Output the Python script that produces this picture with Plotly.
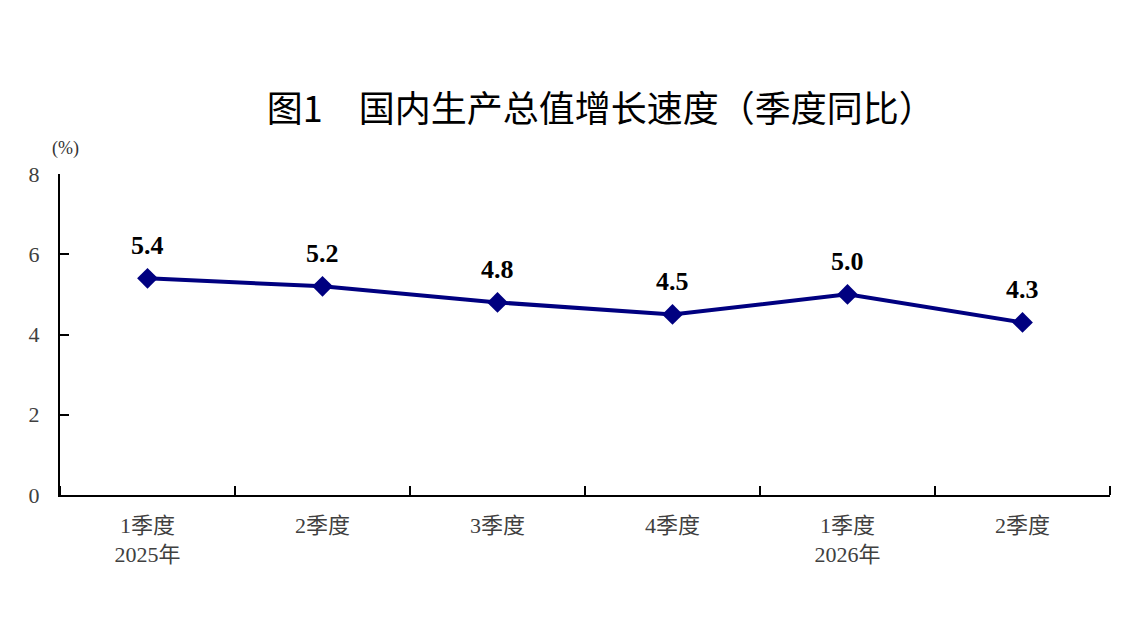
import plotly.graph_objects as go

categories = ["1季度<br>2025年", "2季度", "3季度", "4季度", "1季度<br>2026年", "2季度"]
values = [5.4, 5.2, 4.8, 4.5, 5.0, 4.3]
labels = ["5.4", "5.2", "4.8", "4.5", "5.0", "4.3"]
y_ticks = [0, 2, 4, 6, 8]

x = list(range(len(values)))

fig = go.Figure()
fig.add_trace(go.Scatter(
    x=x, y=values, mode="lines+markers",
    line=dict(color="#000080", width=4),
    marker=dict(symbol="diamond", size=16, color="#000080"),
    cliponaxis=False, hoverinfo="skip",
))

annotations = [
    dict(x=xi, y=v, text=t, xref="x", yref="y", showarrow=False,
         xanchor="center", yanchor="bottom", yshift=16,
         font=dict(family="Liberation Serif", size=26, color="#000000", weight="bold"))
    for xi, v, t in zip(x, values, labels)
]
annotations.append(dict(text="(%)", xref="paper", yref="paper", x=0.005, y=1.078,
                        xanchor="center", yanchor="middle", showarrow=False,
                        font=dict(family="Liberation Serif", size=18, color="#333333")))

fig.update_layout(
    width=1127, height=632,
    margin=dict(l=60, r=17, t=174, b=137),
    paper_bgcolor="white", plot_bgcolor="white",
    showlegend=False,
    title=dict(text="图1　国内生产总值增长速度（季度同比）",
               x=0.533, xanchor="center", y=0.8275, yanchor="middle",
               font=dict(family="Noto Sans CJK SC", size=36, color="#000000")),
    annotations=annotations,
)

fig.update_xaxes(
    range=[-0.5, len(values) - 0.5],
    tickmode="array", tickvals=x, ticktext=categories,
    showgrid=False, zeroline=False,
    showline=True, linecolor="#000000", linewidth=2,
    ticks="", ticklabelstandoff=10,
    tickfont=dict(family="Liberation Serif, Noto Sans CJK SC", size=22, color="#404040"),
)
fig.update_xaxes(minor=dict(tickmode="array", tickvals=[i + 0.5 for i in range(-1, len(values))],
                            ticks="inside", ticklen=9, tickwidth=2, tickcolor="#000000", showgrid=False))

fig.update_yaxes(
    range=[0, 8], tickmode="array", tickvals=y_ticks,
    showgrid=False, zeroline=False,
    showline=True, linecolor="#000000", linewidth=2,
    ticks="inside", ticklen=9, tickwidth=2, tickcolor="#000000",
    ticklabelstandoff=14,
    tickfont=dict(family="Liberation Serif", size=22, color="#404040"),
)

fig.write_html("out.html")
